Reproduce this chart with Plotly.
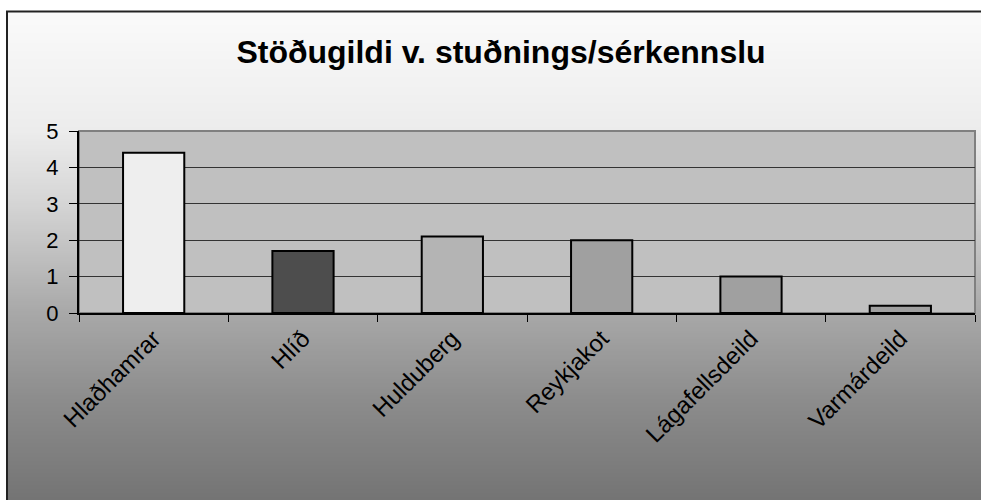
import plotly.graph_objects as go

categories = ["Hlaðhamrar", "Hlíð", "Hulduberg", "Reykjakot", "Lágafellsdeild", "Varmárdeild"]
values = [4.4, 1.7, 2.1, 2.0, 1.0, 0.2]
bar_colors = ["#EEEEEE", "#4D4D4D", "#B4B4B4", "#A0A0A0", "#A0A0A0", "#A0A0A0"]
title_text = "Stöðugildi v. stuðnings/sérkennslu"

W, H = 981, 500
L, R, T, B = 79, 975, 131, 313

def px(x):
    return (x - L) / (R - L)

def py(y):
    return (B - y) / (B - T)

# gradient stops (pixel y, gray level)
stops = [(11, 250), (100, 240), (131, 236), (200, 214), (313, 168), (400, 140), (500, 116)]

def gray_at(y):
    for (y0, g0), (y1, g1) in zip(stops, stops[1:]):
        if y0 <= y <= y1:
            return g0 + (g1 - g0) * (y - y0) / (y1 - y0)
    return stops[-1][1]

shapes = []
step = 2
y = 11
while y < H:
    g = int(round(gray_at(y + step / 2)))
    c = f"rgb({g},{g},{g})"
    shapes.append(dict(type="rect", xref="paper", yref="paper",
                       x0=px(7), x1=px(W + 10), y0=py(y), y1=py(min(y + step, H) + 0.5),
                       fillcolor=c, line=dict(width=0), layer="below"))
    y += step

# plot area
shapes.append(dict(type="rect", xref="paper", yref="paper", x0=0, x1=1, y0=0, y1=1,
                   fillcolor="#C0C0C0", line=dict(color="#808080", width=2), layer="below"))
# outer frame lines
shapes.append(dict(type="line", xref="paper", yref="paper", x0=px(7), x1=px(7),
                   y0=py(11), y1=py(H + 5), line=dict(color="#222222", width=2), layer="above"))
shapes.append(dict(type="line", xref="paper", yref="paper", x0=px(6), x1=px(W + 10),
                   y0=py(11.5), y1=py(11.5), line=dict(color="#222222", width=2), layer="above"))

fig = go.Figure(go.Bar(
    x=categories, y=values,
    marker=dict(color=bar_colors, line=dict(color="#000000", width=2)),
    width=0.41,
))

fig.update_layout(
    width=W, height=H,
    margin=dict(l=L, r=W - R, t=T, b=H - B),
    paper_bgcolor="white",
    plot_bgcolor="rgba(0,0,0,0)",
    shapes=shapes,
    showlegend=False,
    title=dict(text=f"<b>{title_text}</b>", x=501 / W, xanchor="center", xref="container",
               y=1 - 52 / H, yanchor="middle", yref="container",
               font=dict(family="Liberation Sans, Arial, sans-serif", size=32, color="#000000")),
    font=dict(family="Liberation Sans, Arial, sans-serif", size=22, color="#000000"),
)

fig.update_yaxes(range=[0, 5], dtick=1, tick0=0, showgrid=True, gridcolor="#333333", gridwidth=1,
                 showline=True, linecolor="#000000", linewidth=2, ticks="outside", ticklen=8,
                 tickcolor="#000000", tickwidth=1, zeroline=False, ticklabelstandoff=6,
                 tickfont=dict(size=22, color="#000000"))
fig.update_xaxes(showgrid=False, showline=True, linecolor="#000000", linewidth=2,
                 ticks="outside", ticklen=7, tickcolor="#000000", tickwidth=1,
                 tickson="boundaries", tickangle=-45,
                 tickfont=dict(size=24, color="#000000"))

fig.write_html("out.html", config={"displayModeBar": False},
               post_script="document.body.style.margin='0';document.body.style.overflow='hidden';"
                           "document.documentElement.style.overflow='hidden';")
